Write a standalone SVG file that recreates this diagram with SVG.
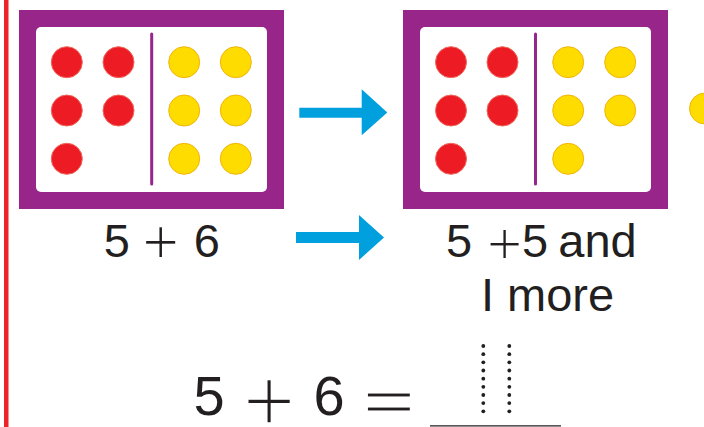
<svg xmlns="http://www.w3.org/2000/svg" width="704" height="427" viewBox="0 0 704 427">
  <style>
    .frame { fill: #97258a; }
    .inner { fill: #ffffff; }
    .divider { stroke: #97258a; stroke-width: 3; stroke-linecap: round; }
    .red { fill: #ed1c24; stroke: #f0675c; stroke-width: 1; }
    .yellow { fill: #ffdc00; stroke: #efb50c; stroke-width: 1; }
    .arrow { fill: #00a0df; }
    .txt { font-family: "Liberation Sans", Arial, sans-serif; fill: #231f20; }
    .op { stroke: #ffffff; }
    .dot { fill: #231f20; }
  </style>
  <rect x="0" y="0" width="704" height="427" fill="#ffffff"/>
  <rect x="4" y="0" width="4.5" height="427" fill="#ee2229"/>

  <g id="frame1">
    <rect class="frame" x="19" y="10" width="265" height="199"/>
    <rect class="inner" x="36" y="27" width="231" height="165" rx="5"/>
    <line class="divider" x1="151.7" y1="34" x2="151.7" y2="184"/>
    <circle class="red" cx="66.8" cy="62.2" r="15.5"/>
    <circle class="red" cx="118.5" cy="62.2" r="15.5"/>
    <circle class="red" cx="66.8" cy="110.5" r="15.5"/>
    <circle class="red" cx="118.5" cy="110.5" r="15.5"/>
    <circle class="red" cx="66.8" cy="158.8" r="15.5"/>
    <circle class="yellow" cx="184.2" cy="62.2" r="15.5"/>
    <circle class="yellow" cx="235.8" cy="62.2" r="15.5"/>
    <circle class="yellow" cx="184.2" cy="110.5" r="15.5"/>
    <circle class="yellow" cx="235.8" cy="110.5" r="15.5"/>
    <circle class="yellow" cx="184.2" cy="158.8" r="15.5"/>
    <circle class="yellow" cx="235.8" cy="158.8" r="15.5"/>
  </g>

  <g id="frame2">
    <rect class="frame" x="403" y="10" width="265" height="199"/>
    <rect class="inner" x="420" y="27" width="231" height="165" rx="5"/>
    <line class="divider" x1="535.5" y1="34" x2="535.5" y2="184"/>
    <circle class="red" cx="451" cy="62.2" r="15.5"/>
    <circle class="red" cx="502.5" cy="62.2" r="15.5"/>
    <circle class="red" cx="451" cy="110.5" r="15.5"/>
    <circle class="red" cx="502.5" cy="110.5" r="15.5"/>
    <circle class="red" cx="451" cy="158.8" r="15.5"/>
    <circle class="yellow" cx="568.2" cy="62.2" r="15.5"/>
    <circle class="yellow" cx="620.2" cy="62.2" r="15.5"/>
    <circle class="yellow" cx="568.2" cy="110.5" r="15.5"/>
    <circle class="yellow" cx="620.2" cy="110.5" r="15.5"/>
    <circle class="yellow" cx="568.2" cy="158.8" r="15.5"/>
  </g>

  <g id="extra-counter">
    <circle class="yellow" cx="705" cy="108.5" r="15.5"/>
  </g>

  <g id="connectors">
    <polygon class="arrow" points="299.3,107.7 361.7,107.7 361.7,89.3 387.3,112.5 361.7,135.3 361.7,117.7 299.3,117.7"/>
    <polygon class="arrow" points="296,232 359,232 359,215 384,237.5 359,260 359,243 296,243"/>
  </g>

  <g id="label1">
    <text class="txt" font-size="47" text-anchor="middle"><tspan x="116.7" y="256.5">5</tspan><tspan class="op" x="160.8" y="264" font-size="64" stroke-width="2">+</tspan><tspan x="206.7" y="256.5">6</tspan></text>
  </g>

  <g id="label2">
    <text class="txt" font-size="47" text-anchor="middle"><tspan x="459" y="256.5">5</tspan><tspan class="op" x="504.5" y="264" font-size="62" stroke-width="2">+</tspan><tspan x="535" y="256.5">5</tspan><tspan x="597.5" y="256.5">and</tspan></text>
    <text class="txt" font-size="47" x="547.5" y="311" text-anchor="middle">I more</text>
  </g>

  <g id="equation">
    <text class="txt" font-size="56" text-anchor="middle"><tspan x="209" y="415">5</tspan><tspan class="op" x="269" y="432" font-size="92" stroke-width="3.4">+</tspan><tspan x="329" y="415">6</tspan></text>
    <text class="txt op" font-size="56" text-anchor="middle" stroke-width="1" transform="translate(389,420) scale(1.6,1)">=</text>
    <line x1="430" y1="425.8" x2="561" y2="425.8" stroke="#231f20" stroke-width="1.2"/>
    <g id="answer-dots">
      <circle class="dot" cx="483.3" cy="346" r="1.9"/>
      <circle class="dot" cx="483.3" cy="354.2" r="1.9"/>
      <circle class="dot" cx="483.3" cy="362.3" r="1.9"/>
      <circle class="dot" cx="483.3" cy="370.5" r="1.9"/>
      <circle class="dot" cx="483.3" cy="378.7" r="1.9"/>
      <circle class="dot" cx="483.3" cy="386.8" r="1.9"/>
      <circle class="dot" cx="483.3" cy="395" r="1.9"/>
      <circle class="dot" cx="483.3" cy="403.1" r="1.9"/>
      <circle class="dot" cx="483.3" cy="411.3" r="1.9"/>
      <circle class="dot" cx="509.3" cy="346" r="1.9"/>
      <circle class="dot" cx="509.3" cy="354.2" r="1.9"/>
      <circle class="dot" cx="509.3" cy="362.3" r="1.9"/>
      <circle class="dot" cx="509.3" cy="370.5" r="1.9"/>
      <circle class="dot" cx="509.3" cy="378.7" r="1.9"/>
      <circle class="dot" cx="509.3" cy="386.8" r="1.9"/>
      <circle class="dot" cx="509.3" cy="395" r="1.9"/>
      <circle class="dot" cx="509.3" cy="403.1" r="1.9"/>
      <circle class="dot" cx="509.3" cy="411.3" r="1.9"/>
    </g>
  </g>
</svg>
